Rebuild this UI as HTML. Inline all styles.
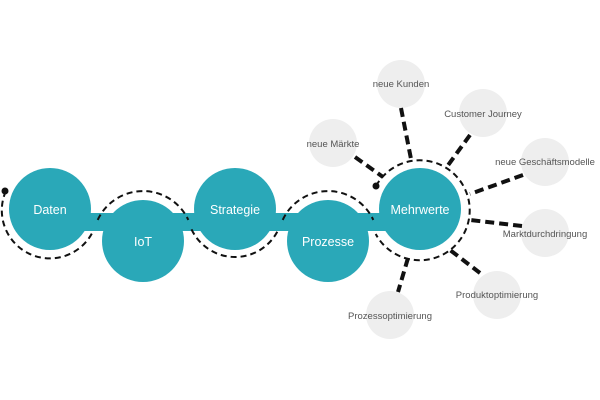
<!DOCTYPE html>
<html><head><style>
html,body{margin:0;padding:0;background:#fff;width:600px;height:400px;overflow:hidden}
svg{display:block}
.m{font-family:"Liberation Sans",sans-serif;font-size:12.5px;fill:#fff;text-anchor:middle}
.s{font-family:"Liberation Sans",sans-serif;font-size:9.5px;fill:#555;text-anchor:middle}
</style></head><body>
<svg width="600" height="400" viewBox="0 0 600 400">
<g fill="#eeeeee">
<circle cx="401" cy="84" r="24"/><circle cx="483" cy="113" r="24"/><circle cx="333" cy="143" r="24"/>
<circle cx="545" cy="162" r="24"/><circle cx="545" cy="233" r="24"/><circle cx="497" cy="295" r="24"/>
<circle cx="390" cy="315" r="24"/>
</g>
<g stroke="#111" stroke-width="4" stroke-dasharray="9,5">
<line x1="401" y1="108" x2="411" y2="159"/>
<line x1="470" y1="135" x2="446" y2="168"/>
<line x1="355" y1="157" x2="383" y2="177"/>
<line x1="523" y1="175" x2="470" y2="194"/>
<line x1="522" y1="226" x2="470" y2="220"/>
<line x1="480" y1="273" x2="450" y2="250"/>
<line x1="408" y1="258" x2="398" y2="292"/>
</g>
<g fill="#2aa8b8">
<rect x="50" y="213" width="370" height="18"/>
<circle cx="50" cy="209" r="41"/>
<circle cx="143" cy="241" r="41"/>
<circle cx="235" cy="209" r="41"/>
<circle cx="328" cy="241" r="41"/>
<circle cx="420" cy="209" r="41"/>
</g>
<g fill="none" stroke="#111" stroke-width="2" stroke-dasharray="6,4">
<path d="M5.8,191.2 A48,48 0 0 0 92.4,232.5"/>
<path d="M97.7,219.9 A50,50 0 0 1 188.3,219.9"/>
<path d="M191.5,229.3 A48,48 0 0 0 278.5,229.3"/>
<path d="M282.7,219.9 A50,50 0 0 1 373.3,219.9"/>
<path d="M376,186 A50,50 0 1 1 375.7,234"/>
</g>
<circle cx="5" cy="191" r="3.5" fill="#111"/>
<circle cx="376" cy="186" r="3.5" fill="#111"/>
<text class="m" x="50" y="214">Daten</text>
<text class="m" x="143" y="246">IoT</text>
<text class="m" x="235" y="214">Strategie</text>
<text class="m" x="328" y="246">Prozesse</text>
<text class="m" x="420" y="214">Mehrwerte</text>
<text class="s" x="401" y="87">neue Kunden</text>
<text class="s" x="483" y="117">Customer Journey</text>
<text class="s" x="333" y="147">neue Märkte</text>
<text class="s" x="545" y="165">neue Geschäftsmodelle</text>
<text class="s" x="545" y="237">Marktdurchdringung</text>
<text class="s" x="497" y="298">Produktoptimierung</text>
<text class="s" x="390" y="319">Prozessoptimierung</text>
</svg>
</body></html>
